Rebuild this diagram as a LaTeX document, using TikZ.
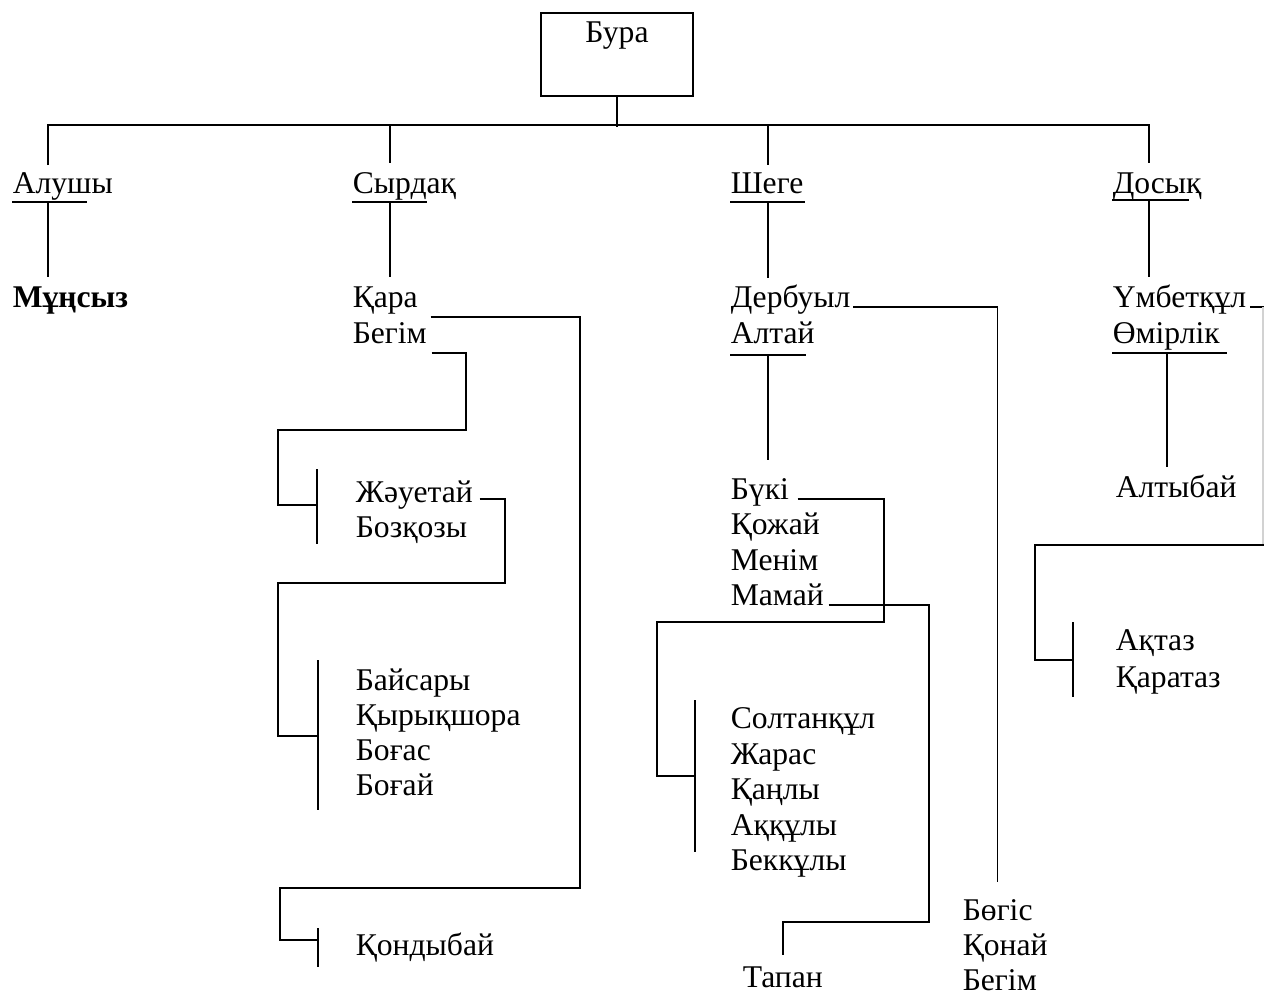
\documentclass[tikz,border=0pt]{standalone}
\usepackage{fontspec}
\setmainfont{Liberation Serif}
\usetikzlibrary{positioning}

\begin{document}
\begin{tikzpicture}[
    x=0.02cm, y=-0.02cm,
    line width=0.9pt,
    font=\fontsize{18}{21}\selectfont,
    ru/.style={anchor=base west, inner sep=0pt}
]
\useasboundingbox (0,0) rectangle (1264,995);

% Root box
\node[draw, anchor=north, inner ysep=0pt, minimum width=3.04cm,
      text height=0.6cm, text depth=1.06cm] (bura) at (617,12) {Бура};

% Clans
\node[ru] (alushy) at (12,193) {Алушы};
\node[ru] (syrdaq) at (352,193) {Сырдақ};
\node[ru] (shege) at (730,193) {Шеге};
\node[ru] (dosyq) at (1112,193) {Досық};

% Second row
\node[ru, font=\fontsize{18}{21}\selectfont\bfseries] (munsyz) at (12,307) {Мұңсыз};
\node[ru] (qara) at (352,307) {Қара};
\node[ru] (begim) at (352,343) {Бегім};
\node[ru] (derbuyl) at (730,307) {Дербуыл};
\node[ru] (altai) at (730,343) {Алтай};
\node[ru] (umbetqul) at (1112,307) {Үмбетқұл};
\node[ru] (omirlik) at (1112,343) {Өмірлік};

% Syrdaq branch
\node[ru] (zhauetai) at (355,502) {Жәуетай};
\node[ru] (bozqozy) at (355,537) {Бозқозы};
\node[ru] (baisary) at (355,690) {Байсары};
\node[ru] (qyryqshora) at (355,725) {Қырықшора};
\node[ru] (bogas) at (355,760) {Боғас};
\node[ru] (bogai) at (355,795) {Боғай};
\node[ru] (qondybai) at (355,955) {Қондыбай};

% Shege branch
\node[ru] (buki) at (730,499) {Бүкі};
\node[ru] (qozhai) at (730,534) {Қожай};
\node[ru] (menim) at (730,570) {Менім};
\node[ru] (mamai) at (730,605) {Мамай};
\node[ru] (soltanqul) at (730,728) {Солтанқұл};
\node[ru] (zharas) at (730,764) {Жарас};
\node[ru] (qanly) at (730,799) {Қаңлы};
\node[ru] (aqquly) at (730,835) {Аққұлы};
\node[ru] (bekquly) at (730,870) {Беккұлы};
\node[ru] (tapan) at (742,987) {Тапан};
\node[ru] (bogis) at (962,920) {Бөгіс};
\node[ru] (qonai) at (962,955) {Қонай};
\node[ru] (begimb) at (962,990) {Бегім};

% Dosyq branch
\node[ru] (altybai) at (1115,497) {Алтыбай};
\node[ru] (aqtaz) at (1115,650) {Ақтаз};
\node[ru] (qarataz) at (1115,687) {Қаратаз};

% Bura down to the clans
\draw (bura.south) -- ++(0,30);
\draw (48,165) -- (48,125) -- (1149,125) -- (1149,163);
\draw (390,125) -- (390,163);
\draw (768,125) -- (768,165);

% Underlines and drops
\draw (alushy.base west) ++(0,9) -- ++(75,0);
\draw (48,202) -- (48,277);
\draw (syrdaq.base west) ++(0,9) -- ++(75,0);
\draw (390,202) -- (390,277);
\draw (shege.base west) ++(0,9) -- ++(75,0);
\draw (768,202) -- (768,278);
\draw (dosyq.base west) ++(0,7) -- ++(77,0);
\draw (1149,200) -- (1149,277);
\draw (altai.base west) ++(0,12) -- ++(76,0);
\draw (768,355) -- (768,460);
\draw (omirlik.base west) ++(0,10) -- ++(115,0);
\draw (1167,353) -- (1167,467);

% Syrdaq links
\draw (qara.base east) ++(12,10) -| (580,888) -| (280,940) -- (318,940);
\draw (318,928) -- (318,967);
\draw (begim.base east) ++(4,10) -| (466,430) -| (278,505) -- (317,505);
\draw (317,469) -- (317,544);
\draw (zhauetai.base east) ++(6,-3) -| (505,583) -| (278,736) -- (318,736);
\draw (318,660) -- (318,810);

% Shege links
\draw (derbuyl.base east) ++(2,0) -| ([yshift=9pt]bogis.north);
\draw (buki.base east) ++(8,0) -| (884,622) -| (657,776) -- (695,776);
\draw (695,700) -- (695,852);
\draw (mamai.base east) ++(4,0) -| (929,922) -| ([yshift=6pt]tapan.north);

% Dosyq links (edge segment is faint in the source)
\draw (umbetqul.base east) ++(3,0) -- (1264,307);
\draw[gray!35, line width=0.6pt] (1263,307) -- (1263,545);
\draw (1264,545) -| (1035,660) -- (1073,660);
\draw (1073,622) -- (1073,697);

\end{tikzpicture}
\end{document}
